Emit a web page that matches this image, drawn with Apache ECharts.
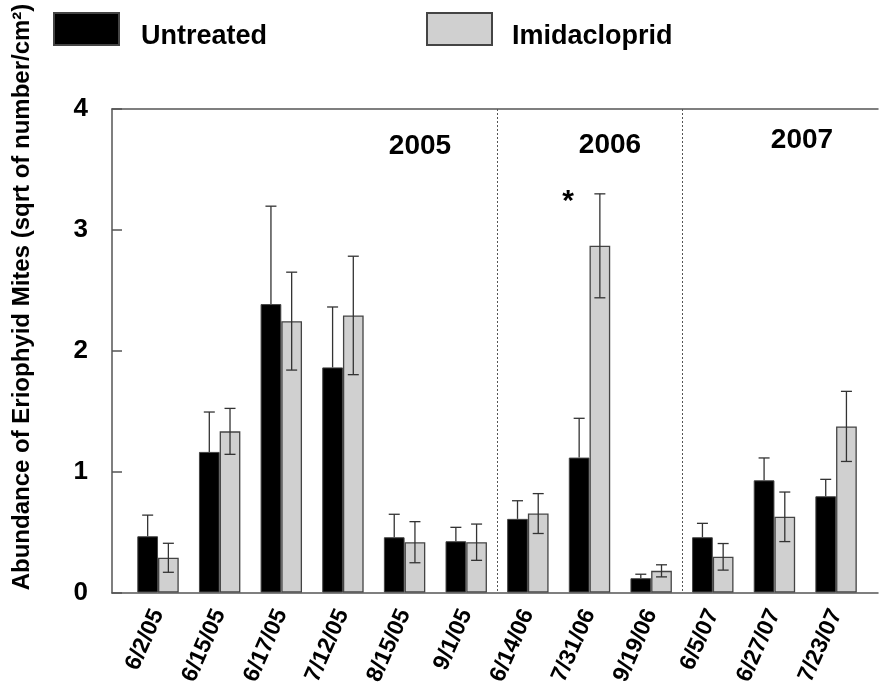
<!DOCTYPE html>
<html>
<head>
<meta charset="utf-8">
<script src="https://cdn.jsdelivr.net/npm/echarts@6/dist/echarts.min.js"></script>
<style>
html,body{margin:0;padding:0;background:#fff;}
#c{width:879px;height:688px;}
</style>
</head>
<body>
<div id="c"></div>
<script>
const categories = ['6/2/05','6/15/05','6/17/05','7/12/05','8/15/05','9/1/05','6/14/06','7/31/06','9/19/06','6/5/07','6/27/07','7/23/07'];
const untreated    = [0.465, 1.163, 2.386, 1.862, 0.457, 0.424, 0.609, 1.116, 0.118, 0.457, 0.928, 0.796];
const untreatedErr = [0.175, 0.330, 0.810, 0.500, 0.190, 0.115, 0.150, 0.325, 0.033, 0.115, 0.185, 0.140];
const imida        = [0.287, 1.333, 2.245, 2.292, 0.416, 0.416, 0.653, 2.868, 0.179, 0.295, 0.626, 1.374];
const imidaErr     = [0.120, 0.190, 0.405, 0.490, 0.170, 0.150, 0.165, 0.430, 0.050, 0.110, 0.205, 0.290];
const yTicks = [0, 1, 2, 3, 4];
const yearLabels = ['2005', '2006', '2007'];
const sigMarks = [{cat: '7/31/06', text: '*'}];

const FONT = '"Liberation Sans", Arial, sans-serif';
const BAR_FRAC = 0.336;

function errData(vals, errs) {
  return vals.map((v, i) => [i, v, errs[i]]);
}
// lower whisker is hidden inside the black bars in the original, so only draw it for the grey bars
function errRender(side, drawLower) {
  return function (params, api) {
    const i = api.value(0), v = api.value(1), e = api.value(2);
    const band = api.size([1, 0])[0];
    const off = side * band * BAR_FRAC / 2;
    const top = api.coord([i, v + e]);
    const mid = api.coord([i, v]);
    const bot = api.coord([i, Math.max(0, v - e)]);
    const x = top[0] + off;
    const cap = 5.5;
    const style = {stroke: '#333', lineWidth: 1.3};
    const children = [
      {type: 'line', shape: {x1: x, y1: top[1], x2: x, y2: drawLower ? bot[1] : mid[1]}, style: style},
      {type: 'line', shape: {x1: x - cap, y1: top[1], x2: x + cap, y2: top[1]}, style: style}
    ];
    if (drawLower) {
      children.push({type: 'line', shape: {x1: x - cap, y1: bot[1], x2: x + cap, y2: bot[1]}, style: style});
    }
    return {type: 'group', children: children};
  };
}

function iconLegend(name, left) {
  return {
    data: [name], left: left, top: 12, padding: 0,
    itemWidth: 65, itemHeight: 32, icon: 'rect',
    formatter: function () { return ''; },
    textStyle: {fontSize: 1}
  };
}
function textLegend(name, left) {
  return {
    data: [name], left: left, top: 20, padding: 0,
    itemWidth: 1, itemHeight: 32, icon: 'rect',
    itemStyle: {opacity: 0},
    textStyle: {fontSize: 27, fontWeight: 'bold', color: '#000', fontFamily: FONT}
  };
}

const chart = echarts.init(document.getElementById('c'), null, {renderer: 'canvas'});
chart.setOption({
  animation: false,
  backgroundColor: '#fff',
  textStyle: {fontFamily: FONT},
  grid: [
    {left: 112, right: 1, top: 109, bottom: 95},
    {left: 127.2, right: 12.1, top: 109, bottom: 95}
  ],
  legend: [
    iconLegend('Untreated', 53),
    iconLegend('Imidacloprid', 426),
    textLegend('Untreated', 134),
    textLegend('Imidacloprid', 505)
  ],
  xAxis: [
    {
      type: 'category', gridIndex: 0, data: categories, position: 'bottom',
      axisLine: {show: true, lineStyle: {color: '#555', width: 1.5}},
      axisTick: {show: false}, axisLabel: {show: false}, splitLine: {show: false}
    },
    {
      type: 'category', gridIndex: 0, data: categories, position: 'top',
      axisLine: {show: true, lineStyle: {color: '#555', width: 1.5}},
      axisTick: {show: false}, axisLabel: {show: false}, splitLine: {show: false}
    },
    {
      type: 'category', gridIndex: 1, data: categories, position: 'bottom',
      axisLine: {show: false}, axisTick: {show: false},
      axisLabel: {
        interval: 0, rotate: 66, margin: 18, fontSize: 23, fontWeight: 'bold',
        color: '#000', fontFamily: FONT
      },
      splitLine: {
        show: true,
        interval: function (idx) { return idx === 6 || idx === 9; },
        lineStyle: {type: [2, 2], color: ['#555', '#555', 'rgba(0,0,0,0)'], width: 1}
      }
    }
  ],
  yAxis: [
    {
      type: 'value', gridIndex: 0, min: 0, max: 4, interval: 1,
      axisLine: {show: true, lineStyle: {color: '#555', width: 1.5}},
      axisTick: {show: true, inside: true, length: 10, lineStyle: {color: '#555', width: 1.5}},
      axisLabel: {
        margin: 24, fontSize: 26, fontWeight: 'bold', color: '#000', fontFamily: FONT,
        formatter: function (v) { return yTicks.indexOf(v) >= 0 ? String(v) : ''; }
      },
      splitLine: {show: false}
    },
    {
      type: 'value', gridIndex: 1, min: 0, max: 4, interval: 1, show: false
    }
  ],
  series: [
    {
      name: 'Untreated', type: 'bar', xAxisIndex: 2, yAxisIndex: 1,
      data: untreated, barWidth: (BAR_FRAC * 100) + '%', barGap: '0%',
      itemStyle: {color: '#000', borderColor: '#444', borderWidth: 1},
      markPoint: {
        symbol: 'circle', symbolSize: 0,
        label: {show: true, fontSize: 30, fontWeight: 'bold', color: '#000', fontFamily: FONT, offset: [-11, 8], formatter: function (p) { return p.name; }},
        data: sigMarks.map(m => ({name: m.text, coord: [m.cat, 3.3]}))
      }
    },
    {
      name: 'Imidacloprid', type: 'bar', xAxisIndex: 2, yAxisIndex: 1,
      data: imida, barWidth: (BAR_FRAC * 100) + '%', barGap: '0%',
      itemStyle: {color: '#d0d0d0', borderColor: '#444', borderWidth: 1.3}
    },
    {
      type: 'custom', xAxisIndex: 2, yAxisIndex: 1, renderItem: errRender(-1, false),
      data: errData(untreated, untreatedErr), encode: {x: 0, y: 1}, z: 5, silent: true
    },
    {
      type: 'custom', xAxisIndex: 2, yAxisIndex: 1, renderItem: errRender(1, true),
      data: errData(imida, imidaErr), encode: {x: 0, y: 1}, z: 5, silent: true
    }
  ],
  graphic: [
    {type: 'text', x: 22, y: 297, rotation: Math.PI / 2,
      style: {text: 'Abundance of Eriophyid Mites (sqrt of number/cm²)', font: 'bold 24px ' + FONT, fill: '#000', textAlign: 'center', textVerticalAlign: 'middle'}},
    {type: 'text', x: 420, y: 146, style: {text: yearLabels[0], font: 'bold 28px ' + FONT, fill: '#000', textAlign: 'center', textVerticalAlign: 'middle'}},
    {type: 'text', x: 610, y: 145, style: {text: yearLabels[1], font: 'bold 28px ' + FONT, fill: '#000', textAlign: 'center', textVerticalAlign: 'middle'}},
    {type: 'text', x: 802, y: 140, style: {text: yearLabels[2], font: 'bold 28px ' + FONT, fill: '#000', textAlign: 'center', textVerticalAlign: 'middle'}}
  ]
});
</script>
</body>
</html>
